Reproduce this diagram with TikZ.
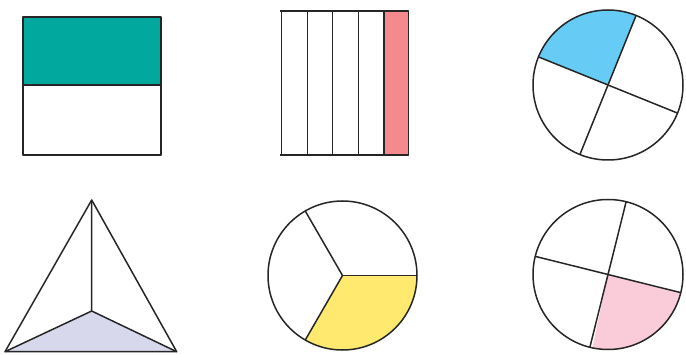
\documentclass[tikz,border=0pt]{standalone}
\definecolor{teal1}{HTML}{00A89D}
\definecolor{salmon1}{HTML}{F48A8E}
\definecolor{sky1}{HTML}{66CCF5}
\definecolor{lav1}{HTML}{D8D8EC}
\definecolor{yel1}{HTML}{FFE96E}
\definecolor{pink1}{HTML}{FACBD8}
\begin{document}
\begin{tikzpicture}[x=1pt,y=1pt,line join=round,
  edge/.style={draw=black!85,line width=1.5pt}]
\useasboundingbox (0,0) rectangle (686,354);
% square halves
\fill[teal1] (23,269) rectangle (161,337);
\draw[edge] (23,199) rectangle (161,337);
\draw[edge] (23,269) -- (161,269);
% fifths
\fill[salmon1] (384,199) rectangle (408.3,343);
\draw[edge] (280,343) -- (408.3,343) -- (408.3,199) -- (280,199);
\foreach \x in {281.7,307.3,332.7,358.3,384} \draw[edge] (\x,343) -- (\x,199);
% circle quarter blue
\coordinate (c1) at (608,269);
\fill[sky1] (c1) -- ++(68:75) arc[start angle=68,end angle=158,radius=75] -- cycle;
\draw[edge] (c1) circle[radius=75];
\foreach \a in {68,158,248,338} \draw[edge] (c1) -- ++(\a:75);
% triangle
\coordinate (tA) at (91.7,154);
\coordinate (tL) at (5,2.3);
\coordinate (tR) at (176.7,2.3);
\coordinate (tI) at (91.7,43);
\fill[lav1] (tL) -- (tI) -- (tR) -- cycle;
\draw[edge] (tA) -- (tL) -- (tR) -- cycle;
\draw[edge] (tA) -- (tI) (tL) -- (tI) -- (tR);
% circle third yellow
\coordinate (c2) at (342.5,78.5);
\fill[yel1] (c2) -- ++(240:74.5) arc[start angle=240,end angle=360,radius=74.5] -- cycle;
\draw[edge] (c2) circle[radius=74.5];
\foreach \a in {0,120,240} \draw[edge] (c2) -- ++(\a:74.5);
% circle quarter pink
\coordinate (c3) at (608,79.5);
\fill[pink1] (c3) -- ++(-102:75) arc[start angle=-102,end angle=-14,radius=75] -- cycle;
\draw[edge] (c3) circle[radius=75];
\foreach \a in {76,166,-14,-104} \draw[edge] (c3) -- ++(\a:75);
\end{tikzpicture}
\end{document}
